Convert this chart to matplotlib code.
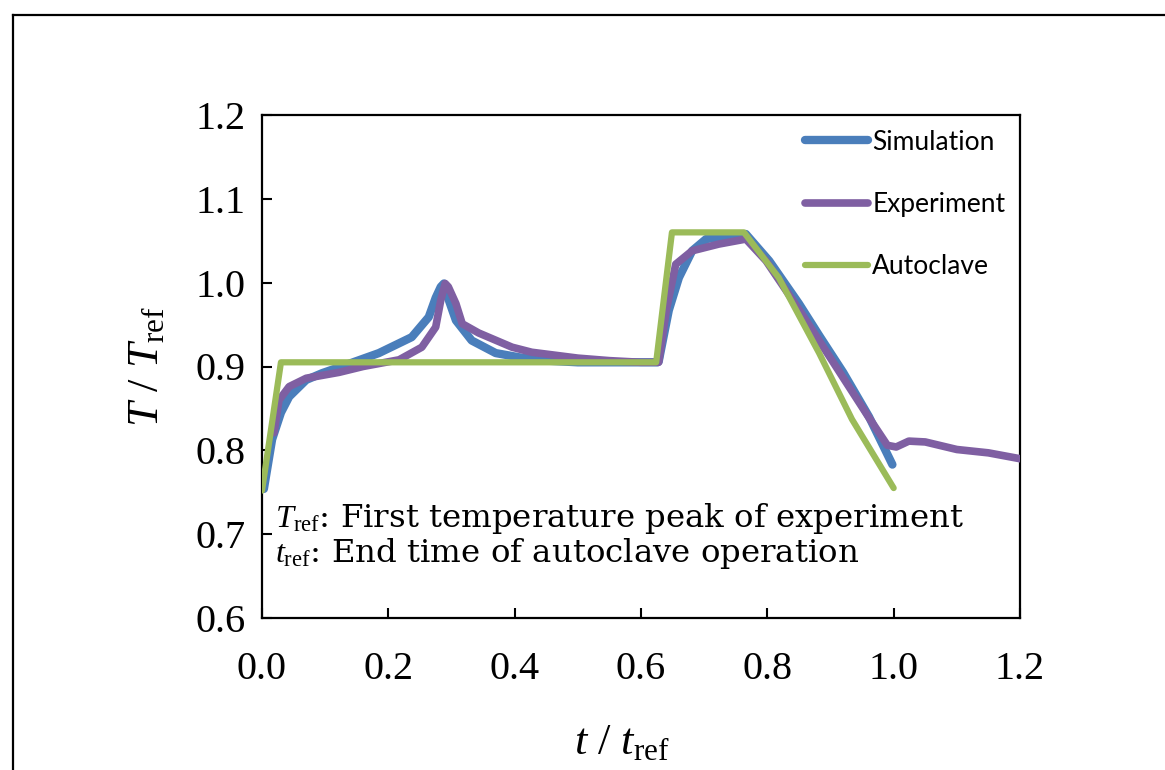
import matplotlib
matplotlib.use("Agg")
import matplotlib.pyplot as plt
from matplotlib.lines import Line2D

# ---------------- data ----------------
sim_t = [0.003, 0.016, 0.030, 0.043, 0.070, 0.095, 0.133, 0.185, 0.237, 0.264, 0.275, 0.283, 0.288,
         0.293, 0.307, 0.332, 0.370, 0.407, 0.45, 0.50, 0.55, 0.60, 0.626,
         0.628, 0.644, 0.660, 0.681, 0.703, 0.766, 0.803, 0.850, 0.882, 0.920, 0.961, 0.998]
sim_T = [0.754, 0.813, 0.845, 0.864, 0.884, 0.892, 0.902, 0.916, 0.935, 0.959, 0.982, 0.995, 0.999,
         0.985, 0.955, 0.931, 0.916, 0.911, 0.907, 0.905, 0.905, 0.905, 0.905,
         0.906, 0.967, 1.006, 1.038, 1.052, 1.058, 1.026, 0.975, 0.937, 0.893, 0.840, 0.783]

exp_t = [0.019, 0.027, 0.043, 0.070, 0.122, 0.160, 0.217, 0.253, 0.275, 0.283, 0.290, 0.295,
         0.307, 0.317, 0.343, 0.396, 0.427, 0.50, 0.55, 0.60, 0.628,
         0.640, 0.655, 0.681, 0.723, 0.766, 0.798, 0.850, 0.900, 0.960, 0.990, 1.004, 1.024, 1.050,
         1.100, 1.150, 1.200]
exp_T = [0.821, 0.860, 0.876, 0.886, 0.893, 0.900, 0.908, 0.923, 0.947, 0.979, 0.999, 0.995,
         0.975, 0.951, 0.940, 0.923, 0.917, 0.910, 0.907, 0.905, 0.905,
         0.967, 1.022, 1.038, 1.046, 1.052, 1.026, 0.968, 0.910, 0.840, 0.806, 0.804, 0.811, 0.810,
         0.801, 0.797, 0.790]

auto_t = [0.0, 0.030, 0.624, 0.649, 0.763, 0.818, 0.882, 0.934, 1.0]
auto_T = [0.752, 0.905, 0.905, 1.060, 1.060, 1.006, 0.916, 0.837, 0.755]

x_ticks = [0.0, 0.2, 0.4, 0.6, 0.8, 1.0, 1.2]
y_ticks = [0.6, 0.7, 0.8, 0.9, 1.0, 1.1, 1.2]

# ---------------- figure ----------------
plt.rcParams['mathtext.fontset'] = 'custom'
plt.rcParams['mathtext.rm'] = 'Liberation Serif'
plt.rcParams['mathtext.it'] = 'Liberation Serif:italic'

W, H = 1165, 770
fig = plt.figure(figsize=(W / 100, H / 100), dpi=100)
ax = fig.add_axes([262 / W, 1 - 618 / H, (1020 - 262) / W, (618 - 115) / H])

blue = '#4A7EBB'
purple = '#7F5FA2'
green = '#9BBB59'

ax.plot(sim_t, sim_T, color=blue, lw=6, label='Simulation', solid_capstyle='round', zorder=3)
ax.plot(exp_t, exp_T, color=purple, lw=5.5, label='Experiment', solid_capstyle='round', zorder=4)
ax.plot(auto_t, auto_T, color=green, lw=4.5, label='Autoclave', solid_capstyle='round', zorder=5)

ax.set_xlim(0, 1.2)
ax.set_ylim(0.6, 1.2)
ax.set_xticks(x_ticks)
ax.set_yticks(y_ticks)
ax.set_xticklabels([f"{v:.1f}" for v in x_ticks])
ax.set_yticklabels([f"{v:.1f}" for v in y_ticks])

for s in ax.spines.values():
    s.set_linewidth(1.6)
ax.tick_params(direction='in', length=7, width=1.5)
ax.tick_params(axis='y', pad=12)
ax.tick_params(axis='x', pad=24)
for lab in ax.get_xticklabels() + ax.get_yticklabels():
    lab.set_fontfamily('Liberation Serif')
    lab.set_fontsize(29)

ax.set_xlabel(r"$t$ / $t_{\rm ref}$", fontsize=32, family='Liberation Serif')
ax.xaxis.set_label_coords(0.475, -0.208)
ax.set_ylabel(r"$T$ / $T_{\rm ref}$", fontsize=32, labelpad=20, family='Liberation Serif')

leg = ax.legend(loc='upper right', frameon=False, prop={'family': 'Lato', 'size': 19},
                handlelength=2.4, handletextpad=0.15, labelspacing=1.42,
                bbox_to_anchor=(1.0, 1.0), borderaxespad=0.15)

ax.text(0.017, 0.181, r"$T_{\rm ref}$: First temperature peak of experiment",
        transform=ax.transAxes, fontsize=23.3, family='DejaVu Serif', va='baseline')
ax.text(0.017, 0.111, r"$t_{\rm ref}$: End time of autoclave operation",
        transform=ax.transAxes, fontsize=23.3, family='DejaVu Serif', va='baseline')

# outer frame lines
fig.add_artist(Line2D([13 / W, 13 / W], [0, 1 - 15 / H], transform=fig.transFigure, color='black', lw=1.6))
fig.add_artist(Line2D([13 / W, 1], [1 - 15 / H, 1 - 15 / H], transform=fig.transFigure, color='black', lw=1.6))

fig.savefig('out.png', dpi=100)
